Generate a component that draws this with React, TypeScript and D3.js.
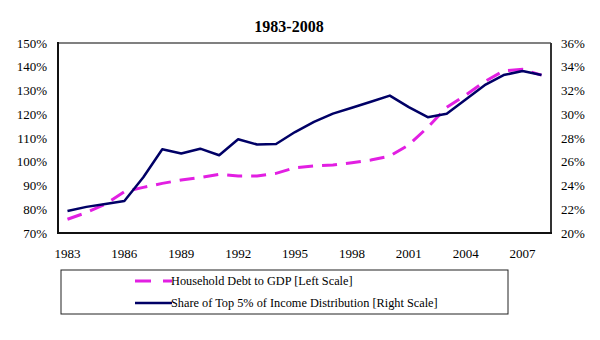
import React from "react";
import * as d3 from "d3";

const years = d3.range(1983, 2009).map(String);
const debtToGDP = [75.8, 78.6, 82.2, 87.4, 89.2, 90.9, 92.3, 93.4, 94.7, 94.0, 94.0, 95.1, 97.5, 98.2, 98.6, 99.6, 100.7, 102.4, 107.1, 114.5, 122.9, 128.1, 133.7, 138.3, 138.9, 136.5];
const top5Share = [21.85, 22.2, 22.45, 22.7, 24.7, 27.05, 26.7, 27.1, 26.55, 27.9, 27.45, 27.5, 28.5, 29.35, 30.05, 30.55, 31.05, 31.57, 30.6, 29.75, 30.05, 31.25, 32.45, 33.3, 33.65, 33.3];
const leftTicks = [70, 80, 90, 100, 110, 120, 130, 140, 150];
const rightTicks = [20, 22, 24, 26, 28, 30, 32, 34, 36];
const xTickYears = ["1983", "1986", "1989", "1992", "1995", "1998", "2001", "2004", "2007"];
const title = "1983-2008";
const seriesNames = ["Household Debt to GDP [Left Scale]", "Share of Top 5% of Income Distribution [Right Scale]"];

const PINK = "#E21FE2";
const NAVY = "#000066";
const FONT = "'Liberation Serif', 'Times New Roman', serif";

export default function App() {
  const W = 600, H = 340;
  const left = 58, right = 551, top = 43, bottom = 233;
  const x = d3.scaleBand().domain(years).range([left, right]);
  const xc = (y: string) => (x(y) as number) + x.bandwidth() / 2;
  const yL = d3.scaleLinear().domain([70, 150]).range([bottom, top]);
  const yR = d3.scaleLinear().domain([20, 36]).range([bottom, top]);

  const debtLine = d3.line<number>().x((_, i) => xc(years[i])).y((d) => yL(d))(debtToGDP) || "";
  const shareLine = d3.line<number>().x((_, i) => xc(years[i])).y((d) => yR(d))(top5Share) || "";

  return (
    <svg width={W} height={H} style={{ position: "absolute", left: 0, top: 0, background: "#fff" }} fontFamily={FONT}>
      <rect x={0} y={0} width={W} height={H} fill="#fff" />
      <text x={289} y={32} textAnchor="middle" fontSize={16} fontWeight="bold" fill="#000">{title}</text>
      {/* plot frame */}
      <rect x={left} y={top} width={right - left} height={bottom - top} fill="#fff" />
      <line x1={left} x2={right} y1={top} y2={top} stroke="#808080" strokeWidth={2} />
      <line x1={right} x2={right} y1={top} y2={bottom} stroke="#333" strokeWidth={2} />
      <line x1={left} x2={left} y1={top - 1} y2={bottom + 1} stroke="#111" strokeWidth={2} />
      <line x1={left - 1} x2={right + 1} y1={bottom} y2={bottom} stroke="#111" strokeWidth={2} />

      {leftTicks.map((t) => (
        <text key={"l" + t} x={47} y={yL(t)} dy="0.35em" textAnchor="end" fontSize={13} fill="#000">{t + "%"}</text>
      ))}
      {rightTicks.map((t) => (
        <text key={"r" + t} x={561} y={yR(t)} dy="0.35em" textAnchor="start" fontSize={13} fill="#000">{t + "%"}</text>
      ))}
      {xTickYears.map((yr) => (
        <text key={"x" + yr} x={xc(yr)} y={258} textAnchor="middle" fontSize={13} fill="#000">{yr}</text>
      ))}

      <path d={debtLine} fill="none" stroke={PINK} strokeWidth={3} strokeDasharray="15,9" />
      <path d={shareLine} fill="none" stroke={NAVY} strokeWidth={2.5} strokeLinejoin="round" />

      {/* legend */}
      <rect x={61} y={270} width={447} height={44} fill="#fff" stroke="#222" strokeWidth={1} />
      <line x1={135} x2={172} y1={281} y2={281} stroke={PINK} strokeWidth={3} strokeDasharray="16,12" />
      <text x={171} y={285} fontSize={12.3} fill="#000">{seriesNames[0]}</text>
      <line x1={135} x2={172} y1={303} y2={303} stroke={NAVY} strokeWidth={2.5} />
      <text x={171} y={307} fontSize={12.3} fill="#000">{seriesNames[1]}</text>
    </svg>
  );
}
